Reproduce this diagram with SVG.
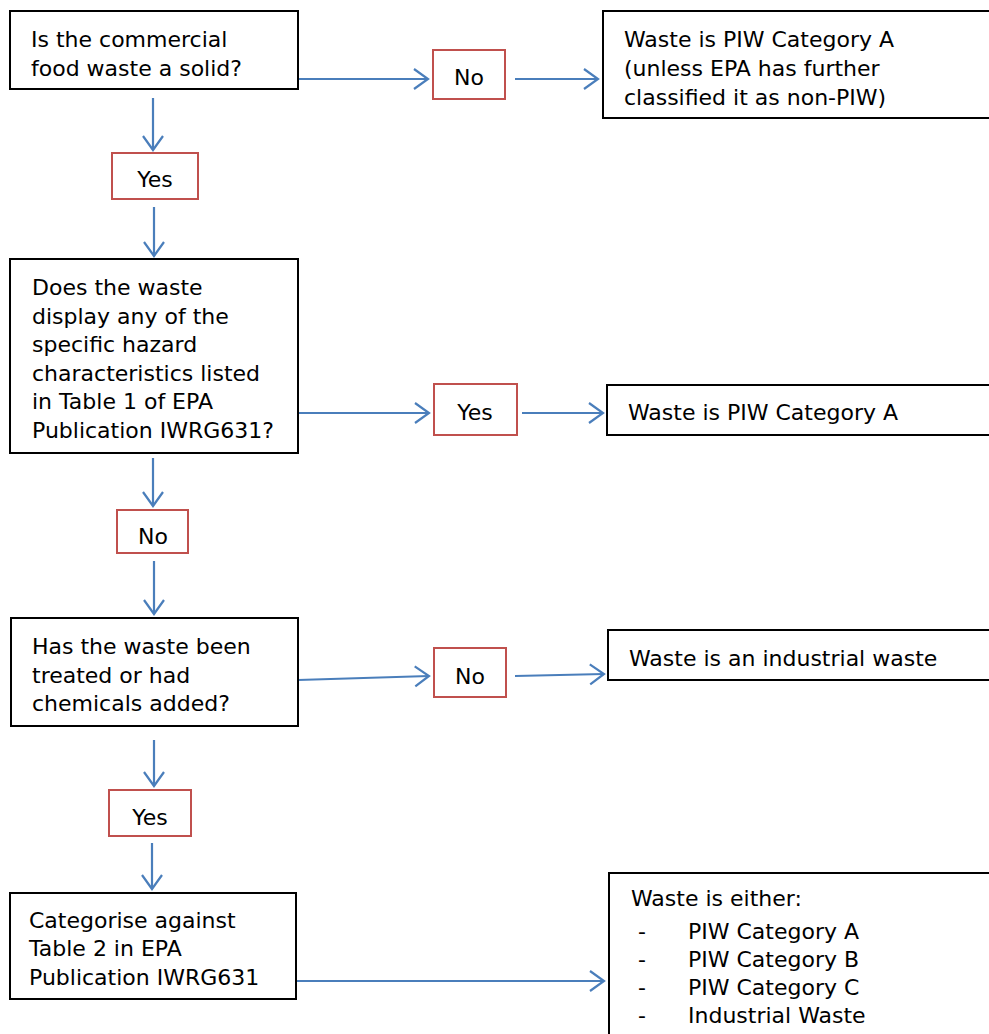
<svg xmlns="http://www.w3.org/2000/svg" width="989" height="1034" viewBox="0 0 989 1034">
<defs>
<marker id="ah" markerWidth="20" markerHeight="24" refX="16" refY="12" orient="auto" markerUnits="userSpaceOnUse">
<path d="M2,2 L16,12 L2,22" fill="none" stroke="#4a7ebb" stroke-width="2.2"/>
</marker>
</defs>
<style>
.box{fill:#fff;stroke:#000;stroke-width:2}
.lab{fill:#fff;stroke:#c0504d;stroke-width:2}
text{font-family:"DejaVu Sans",sans-serif;font-size:22px;fill:#000}
.con{fill:none;stroke:#4a7ebb;stroke-width:2.2;marker-end:url(#ah)}
</style>
<rect width="989" height="1034" fill="#fff"/>
<g id="connectors">
<line class="con" x1="298" y1="79" x2="428" y2="79"/>
<line class="con" x1="515" y1="79" x2="598" y2="79"/>
<line class="con" x1="153" y1="98" x2="153" y2="150"/>
<line class="con" x1="154" y1="207" x2="154" y2="256"/>
<line class="con" x1="298" y1="413" x2="429" y2="413"/>
<line class="con" x1="522" y1="413" x2="603" y2="413"/>
<line class="con" x1="153" y1="458" x2="153" y2="506"/>
<line class="con" x1="154" y1="561" x2="154" y2="614"/>
<line class="con" x1="298" y1="680" x2="429" y2="676"/>
<line class="con" x1="515" y1="676" x2="604" y2="674"/>
<line class="con" x1="154" y1="740" x2="154" y2="786"/>
<line class="con" x1="152" y1="843" x2="152" y2="889"/>
<line class="con" x1="296" y1="981" x2="604" y2="981"/>
</g>
<g id="q1">
<rect class="box" x="10" y="11" width="288" height="78"/>
<text x="31" y="47">Is the commercial</text>
<text x="31" y="76">food waste a solid?</text>
</g>
<g id="l-no1">
<rect class="lab" x="433" y="50" width="72" height="49"/>
<text x="469" y="85" text-anchor="middle">No</text>
</g>
<g id="r1">
<rect class="box" x="603" y="11" width="396" height="107"/>
<text x="624" y="47">Waste is PIW Category A</text>
<text x="624" y="76">(unless EPA has further</text>
<text x="624" y="105">classified it as non-PIW)</text>
</g>
<g id="l-yes1">
<rect class="lab" x="112" y="153" width="86" height="46"/>
<text x="155" y="187" text-anchor="middle">Yes</text>
</g>
<g id="q2">
<rect class="box" x="10" y="259" width="288" height="194"/>
<text x="32" y="295">Does the waste</text>
<text x="32" y="324">display any of the</text>
<text x="32" y="352">specific hazard</text>
<text x="32" y="381">characteristics listed</text>
<text x="32" y="409">in Table 1 of EPA</text>
<text x="32" y="438">Publication IWRG631?</text>
</g>
<g id="l-yes2">
<rect class="lab" x="434" y="384" width="83" height="51"/>
<text x="475" y="420" text-anchor="middle">Yes</text>
</g>
<g id="r2">
<rect class="box" x="607" y="385" width="392" height="50"/>
<text x="628" y="420">Waste is PIW Category A</text>
</g>
<g id="l-no2">
<rect class="lab" x="117" y="510" width="71" height="43"/>
<text x="153" y="544" text-anchor="middle">No</text>
</g>
<g id="q3">
<rect class="box" x="11" y="618" width="287" height="108"/>
<text x="32" y="654">Has the waste been</text>
<text x="32" y="683">treated or had</text>
<text x="32" y="711">chemicals added?</text>
</g>
<g id="l-no3">
<rect class="lab" x="434" y="648" width="72" height="49"/>
<text x="470" y="684" text-anchor="middle">No</text>
</g>
<g id="r3">
<rect class="box" x="608" y="630" width="391" height="50"/>
<text x="629" y="666">Waste is an industrial waste</text>
</g>
<g id="l-yes3">
<rect class="lab" x="109" y="790" width="82" height="46"/>
<text x="150" y="825" text-anchor="middle">Yes</text>
</g>
<g id="q4">
<rect class="box" x="10" y="893" width="286" height="106"/>
<text x="29" y="928">Categorise against</text>
<text x="29" y="956">Table 2 in EPA</text>
<text x="29" y="985">Publication IWRG631</text>
</g>
<g id="r4">
<rect class="box" x="609" y="873" width="390" height="170"/>
<text x="631" y="906">Waste is either:</text>
<text x="638" y="939">-</text><text x="688" y="939">PIW Category A</text>
<text x="638" y="967">-</text><text x="688" y="967">PIW Category B</text>
<text x="638" y="995">-</text><text x="688" y="995">PIW Category C</text>
<text x="638" y="1023">-</text><text x="688" y="1023">Industrial Waste</text>
</g>
</svg>
